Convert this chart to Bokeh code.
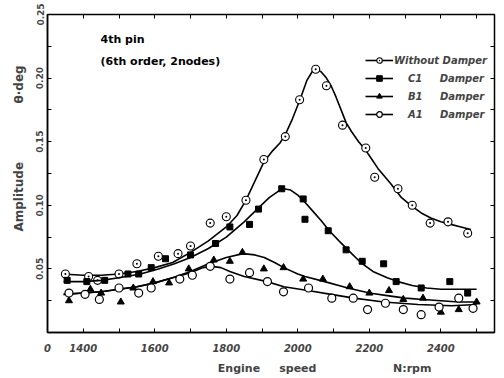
from bokeh.plotting import figure
from bokeh.models import Range1d, FixedTicker, LinearAxis, Label, Legend, LegendItem
from bokeh.embed import file_html
from bokeh.resources import INLINE

# ---------------- data ----------------
x_ticks = [1300, 1400, 1600, 1800, 2000, 2200, 2400]
x_tick_labels = ["0", "1400", "1600", "1800", "2000", "2200", "2400"]
x_minor = [1500, 1700, 1900, 2100, 2300, 2500]
y_ticks = [0.05, 0.10, 0.15, 0.20, 0.25]
y_tick_labels = ["0.05", "0.10", "0.15", "0.20", "0.25"]
y_minor = [0.025, 0.075, 0.125, 0.175, 0.225]

series_names = ["Without Damper", "C1 Damper", "B1 Damper", "A1 Damper"]

rpm_wo = [1350, 1415, 1440, 1500, 1550, 1610, 1665, 1700, 1755, 1800, 1855, 1905,
          1965, 2005, 2050, 2080, 2125, 2190, 2215, 2280, 2320, 2370, 2420, 2475]
amp_wo = [0.046, 0.044, 0.041, 0.046, 0.054, 0.060, 0.062, 0.068, 0.086, 0.091, 0.104, 0.136,
          0.154, 0.183, 0.207, 0.194, 0.163, 0.145, 0.122, 0.113, 0.100, 0.086, 0.087, 0.078]

rpm_c1 = [1355, 1410, 1460, 1525, 1555, 1590, 1630, 1700, 1770, 1810, 1865, 1890,
          1955, 2015, 2020, 2085, 2135, 2180, 2240, 2275, 2345, 2425, 2475]
amp_c1 = [0.041, 0.040, 0.041, 0.046, 0.046, 0.051, 0.058, 0.061, 0.070, 0.083, 0.085, 0.097,
          0.113, 0.105, 0.089, 0.080, 0.065, 0.056, 0.054, 0.040, 0.035, 0.040, 0.031]

rpm_b1 = [1360, 1420, 1450, 1505, 1540, 1595, 1640, 1695, 1765, 1810, 1845, 1905,
          1960, 2015, 2070, 2145, 2200, 2255, 2295, 2350, 2400, 2450, 2500]
amp_b1 = [0.025, 0.034, 0.031, 0.024, 0.035, 0.040, 0.039, 0.050, 0.057, 0.056, 0.063, 0.050,
          0.051, 0.042, 0.042, 0.036, 0.031, 0.033, 0.026, 0.027, 0.016, 0.018, 0.024]

rpm_a1 = [1360, 1405, 1445, 1500, 1555, 1590, 1670, 1705, 1755, 1810, 1865, 1915,
          1960, 2030, 2095, 2155, 2195, 2245, 2295, 2345, 2395, 2450, 2490]
amp_a1 = [0.031, 0.030, 0.026, 0.035, 0.031, 0.035, 0.042, 0.045, 0.052, 0.042, 0.047, 0.040,
          0.032, 0.035, 0.027, 0.027, 0.018, 0.023, 0.018, 0.014, 0.020, 0.027, 0.019]

# hand-fitted curves
wo_curve_rpm = [1340, 1400, 1450, 1500, 1550, 1600, 1650, 1700, 1750, 1800, 1830, 1855, 1880,
                1905, 1930, 1950, 1964, 1985, 2006, 2025, 2040, 2050, 2065, 2080, 2093, 2107,
                2121, 2135, 2150, 2170, 2188, 2205, 2224, 2260, 2290, 2316, 2345, 2372, 2400,
                2428, 2456, 2484]
wo_curve_amp = [0.046, 0.045, 0.045, 0.046, 0.048, 0.051, 0.055, 0.063, 0.072, 0.083, 0.092,
                0.104, 0.119, 0.134, 0.143, 0.149, 0.155, 0.168, 0.183, 0.198, 0.205, 0.207,
                0.205, 0.200, 0.194, 0.185, 0.175, 0.165, 0.158, 0.150, 0.144, 0.137, 0.129,
                0.117, 0.106, 0.100, 0.094, 0.090, 0.087, 0.085, 0.083, 0.081]

c1_curve_rpm = [1345, 1400, 1450, 1500, 1560, 1610, 1655, 1700, 1750, 1800, 1850, 1890, 1920,
                1945, 1960, 1980, 2000, 2015, 2040, 2065, 2088, 2115, 2140, 2176, 2210, 2250,
                2280, 2320, 2360, 2400, 2450, 2500]
c1_curve_amp = [0.040, 0.040, 0.041, 0.043, 0.046, 0.050, 0.054, 0.059, 0.066, 0.075, 0.087,
                0.098, 0.106, 0.111, 0.113, 0.112, 0.108, 0.104, 0.096, 0.088, 0.080, 0.072,
                0.065, 0.055, 0.048, 0.043, 0.040, 0.037, 0.035, 0.034, 0.034, 0.034]

b1_curve_rpm = [1345, 1400, 1450, 1500, 1550, 1600, 1650, 1700, 1750, 1800, 1847, 1880, 1906,
                1935, 1961, 2000, 2020, 2075, 2140, 2200, 2250, 2300, 2350, 2400, 2450, 2500]
b1_curve_amp = [0.030, 0.031, 0.032, 0.034, 0.036, 0.039, 0.043, 0.048, 0.054, 0.059, 0.062,
                0.061, 0.059, 0.055, 0.051, 0.046, 0.044, 0.040, 0.035, 0.031, 0.029, 0.027,
                0.026, 0.025, 0.024, 0.024]

a1_curve_rpm = [1345, 1400, 1450, 1500, 1550, 1600, 1650, 1700, 1735, 1760, 1785, 1810, 1850,
                1914, 1961, 2028, 2093, 2157, 2240, 2336, 2430, 2500]
a1_curve_amp = [0.030, 0.031, 0.032, 0.034, 0.036, 0.039, 0.043, 0.047, 0.051, 0.052, 0.051,
                0.048, 0.044, 0.040, 0.036, 0.033, 0.030, 0.027, 0.024, 0.022, 0.021, 0.022]

# ---------------- figure ----------------
FONT = "DejaVu Sans"
nb = "\u00a0"
p = figure(width=504, height=378, output_backend="svg", toolbar_location=None,
           x_range=Range1d(1300, 2550), y_range=Range1d(0, 0.25),
           min_border_left=47, min_border_right=10, min_border_top=14, min_border_bottom=46)
p.xgrid.visible = False
p.ygrid.visible = False
p.outline_line_color = "black"
p.outline_line_width = 1.5
p.background_fill_color = "white"
p.border_fill_color = "white"

xt = FixedTicker(ticks=x_ticks, minor_ticks=x_minor)
yt = FixedTicker(ticks=y_ticks, minor_ticks=y_minor)

for ax in p.xaxis:
    ax.ticker = xt
    ax.major_label_overrides = dict(zip(x_ticks, x_tick_labels))
    ax.axis_line_width = 1.5
    ax.major_tick_in = 4
    ax.major_tick_out = 0
    ax.minor_tick_in = 4
    ax.minor_tick_out = 0
    ax.major_label_standoff = 11
    ax.major_label_text_font = FONT
    ax.major_label_text_font_style = "bold italic"
    ax.major_label_text_font_size = "10px"
    ax.axis_label = nb * 28 + "Engine" + nb * 5 + "speed" + nb * 20 + "N:rpm"
    ax.axis_label_standoff = 7
    ax.axis_label_text_font = FONT
    ax.axis_label_text_font_style = "bold"
    ax.axis_label_text_font_size = "11px"

for ax in p.yaxis:
    ax.ticker = yt
    ax.major_label_overrides = dict(zip(y_ticks, y_tick_labels))
    ax.axis_line_width = 1.5
    ax.major_tick_in = 4
    ax.major_tick_out = 0
    ax.minor_tick_in = 4
    ax.minor_tick_out = 0
    ax.major_label_orientation = "vertical"
    ax.major_label_standoff = 4
    ax.major_label_text_font = FONT
    ax.major_label_text_font_style = "bold"
    ax.major_label_text_font_size = "9px"
    ax.axis_label = nb * 12 + "Amplitude" + nb * 14 + "\u03b8\u00b7deg"
    ax.axis_label_standoff = 8
    ax.axis_label_text_font = FONT
    ax.axis_label_text_font_style = "bold"
    ax.axis_label_text_font_size = "12px"

top = LinearAxis(ticker=xt, major_tick_in=4, major_tick_out=0, minor_tick_in=4,
                 minor_tick_out=0, axis_line_color=None,
                 major_label_overrides={t: "" for t in x_ticks})
right = LinearAxis(ticker=yt, major_tick_in=4, major_tick_out=0, minor_tick_in=4,
                   minor_tick_out=0, axis_line_color=None,
                   major_label_overrides={t: "" for t in y_ticks})
p.add_layout(top, "above")
p.add_layout(right, "right")

# ---------------- series ----------------
lw = 1.6
l_wo = p.line(wo_curve_rpm, wo_curve_amp, line_color="black", line_width=lw)
m_wo = p.scatter(rpm_wo, amp_wo, marker="circle_dot", size=8, fill_color="white",
                 line_color="black", line_width=1.1)
l_c1 = p.line(c1_curve_rpm, c1_curve_amp, line_color="black", line_width=lw)
m_c1 = p.scatter(rpm_c1, amp_c1, marker="square", size=6, fill_color="black",
                 line_color="black")
l_b1 = p.line(b1_curve_rpm, b1_curve_amp, line_color="black", line_width=lw)
m_b1 = p.scatter(rpm_b1, amp_b1, marker="triangle", size=7, fill_color="black",
                 line_color="black")
l_a1 = p.line(a1_curve_rpm, a1_curve_amp, line_color="black", line_width=lw)
m_a1 = p.scatter(rpm_a1, amp_a1, marker="circle", size=8, fill_color="white",
                 line_color="black", line_width=1.2)

legend_labels = [
    series_names[0],
    nb * 4 + "C1" + nb * 5 + "Damper",
    nb * 4 + "B1" + nb * 5 + "Damper",
    nb * 4 + "A1" + nb * 5 + "Damper",
]
legend = Legend(items=[
    LegendItem(label=legend_labels[0], renderers=[l_wo, m_wo]),
    LegendItem(label=legend_labels[1], renderers=[l_c1, m_c1]),
    LegendItem(label=legend_labels[2], renderers=[l_b1, m_b1]),
    LegendItem(label=legend_labels[3], renderers=[l_a1, m_a1]),
], location=(318, 211), glyph_width=28, glyph_height=14, label_height=14, spacing=4,
    padding=0, margin=0, label_standoff=1, border_line_alpha=0, background_fill_alpha=0,
    label_text_font=FONT, label_text_font_style="bold italic", label_text_font_size="10px")
p.add_layout(legend)

# ---------------- texts ----------------
for text, ys in [("4th pin", 293), ("(6th order, 2nodes)", 271)]:
    p.add_layout(Label(x=53, y=ys, x_units="screen", y_units="screen", text=text,
                       text_align="left", text_baseline="middle",
                       text_font=FONT, text_font_style="bold", text_font_size="11px",
                       text_color="black"))

open("out.html", "w").write(file_html(p, INLINE))
